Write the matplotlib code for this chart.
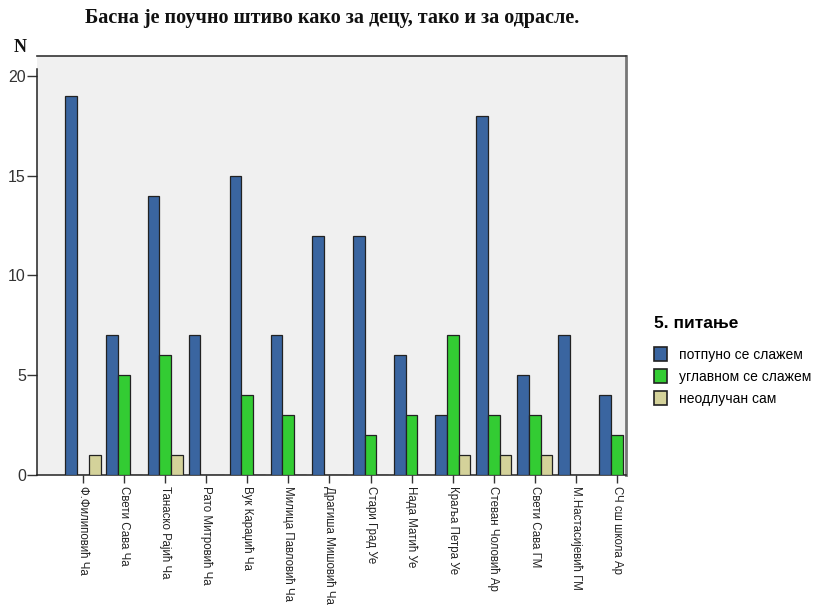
import matplotlib
matplotlib.use("Agg")
import matplotlib.pyplot as plt
from matplotlib.patches import Patch
import numpy as np

schools = [
    "Ф.Филиповић Ча", "Свети Сава Ча", "Танаско Рајић Ча", "Рато Митровић Ча",
    "Вук Караџић Ча", "Милица Павловић Ча", "Драгиша Мишовић Ча", "Стари Град Уе",
    "Нада Матић Уе", "Краља Петра Уе", "Стеван Чоловић Ар", "Свети Сава ГМ",
    "М.Настасијевић ГМ", "СЧ сш школа Ар",
]
fully_agree = [19, 7, 14, 7, 15, 7, 12, 12, 6, 3, 18, 5, 7, 4]
mostly_agree = [0, 5, 6, 0, 4, 3, 0, 2, 3, 7, 3, 3, 0, 2]
undecided = [1, 0, 1, 0, 0, 0, 0, 0, 0, 1, 1, 1, 0, 0]
series_names = ["потпуно се слажем", "углавном се слажем", "неодлучан сам"]
series_colors = ["#3A65A0", "#33CC33", "#D4D29A"]
yticks = [0, 5, 10, 15, 20]

sans = ["Liberation Sans", "DejaVu Sans"]
serif = ["Liberation Serif", "DejaVu Serif"]

fig = plt.figure(figsize=(8.21, 6.12), dpi=100)
ax = fig.add_axes([37 / 821, 1 - 475 / 612, (626 - 37) / 821, (475 - 56) / 612])
ax.set_facecolor("#F0F0F0")

x = np.arange(len(schools))
w = 0.286
for k, (vals, col) in enumerate(zip([fully_agree, mostly_agree, undecided], series_colors)):
    ax.bar(x + (k - 1) * w, vals, width=w, color=col, edgecolor="#222222",
           linewidth=0.9, zorder=3)

ax.set_xlim(-1.12, 13.22)
ax.set_ylim(0, 21)
ax.set_yticks(yticks)
ax.set_yticklabels([str(v) for v in yticks], fontfamily=sans, fontsize=11.5, color="#333333")
ax.set_xticks(x)
ax.set_xticklabels(schools, rotation=270, fontfamily=sans, fontsize=8.3,
                   color="#222222", ha="center", va="top")
ax.tick_params(axis="y", length=7, width=1, color="#333333", pad=1)
ax.tick_params(axis="x", length=6, width=1, color="#333333", pad=2)

for side in ["left", "bottom"]:
    ax.spines[side].set_color("#222222")
    ax.spines[side].set_linewidth(1.1)
ax.spines["left"].set_bounds(0, 20.35)
ax.spines["top"].set_color("#333333")
ax.spines["top"].set_linewidth(1.2)
ax.spines["right"].set_color("#777777")
ax.spines["right"].set_linewidth(2)

fig.text(332 / 821, 1 - 18 / 612, "Басна је поучно штиво како за децу, тако и за одрасле.",
         fontfamily=serif, fontweight="bold", fontsize=14.5, ha="center", va="center",
         color="#111111")
fig.text(14 / 821, 1 - 47 / 612, "N", fontfamily=serif, fontweight="bold", fontsize=13,
         ha="left", va="center", color="#111111")

handles = [Patch(facecolor=c, edgecolor="#222222", linewidth=1.2) for c in series_colors]
leg = fig.legend(handles, series_names, loc="upper left",
                 bbox_to_anchor=(641 / 821, 1 - 303 / 612), frameon=False,
                 title="5. питање", prop={"family": sans, "size": 10},
                 handlelength=1.0, handleheight=1.1, handletextpad=0.8,
                 labelspacing=0.55, alignment="left")
leg.get_title().set_fontfamily(sans)
leg.get_title().set_fontweight("bold")
leg.get_title().set_fontsize(12.5)
leg._legend_box.sep = 12

fig.savefig("out.png", dpi=100)
